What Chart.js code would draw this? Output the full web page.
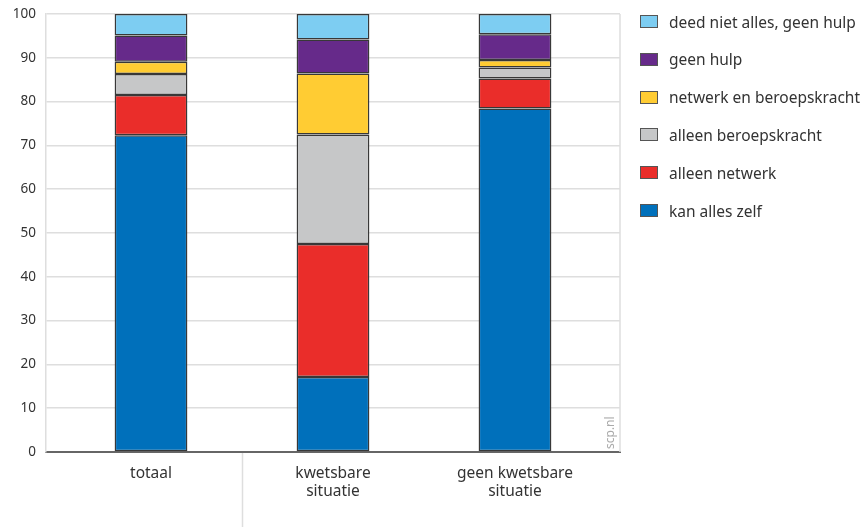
<!DOCTYPE html>
<html><head><meta charset="utf-8">
<script src="https://cdn.jsdelivr.net/npm/chart.js@4.4.1/dist/chart.umd.min.js"></script>
<style>
html,body{margin:0;padding:0;background:#fff;}
#wrap{position:relative;width:862px;height:527px;overflow:hidden;}
#legend{position:absolute;left:640px;top:0;font-family:"Noto Sans";font-size:15.5px;color:#333;}
.item{position:absolute;left:0;white-space:nowrap;height:20px;line-height:20px;}
.box{position:absolute;left:0;top:3.5px;width:18px;height:13px;box-sizing:border-box;border:1.5px solid #555;}
.lbl{position:absolute;left:29px;top:0;}
</style></head>
<body><div id="wrap"><canvas id="c" width="862" height="527"></canvas><div id="legend"></div></div>
<script>
const categories = [["totaal"], ["kwetsbare", "situatie"], ["geen kwetsbare", "situatie"]];
const seriesNames = ["kan alles zelf", "alleen netwerk", "alleen beroepskracht", "netwerk en beroepskracht", "geen hulp", "deed niet alles, geen hulp"];
const kanAllesZelf = [72.3, 17.1, 78.4];
const alleenNetwerk = [9.2, 30.4, 6.9];
const alleenBeroepskracht = [4.8, 25.0, 2.5];
const netwerkEnBeroepskracht = [2.8, 13.9, 1.7];
const geenHulp = [6.0, 7.8, 5.9];
const deedNietAlles = [4.9, 5.8, 4.6];
const yTicks = [0, 10, 20, 30, 40, 50, 60, 70, 80, 90, 100];

const seriesValues = [kanAllesZelf, alleenNetwerk, alleenBeroepskracht, netwerkEnBeroepskracht, geenHulp, deedNietAlles];
const colors = ["#0070bb", "#ea2d2a", "#c6c7c8", "#ffcc33", "#662a8a", "#7dcdf2"];
const FONT = "Noto Sans";

const datasets = seriesNames.map((name, s) => ({
  label: name,
  data: categories.map((c, i) => ({x: i, y: seriesValues[s][i]})),
  backgroundColor: colors[s],
  borderColor: "#383838",
  borderWidth: 1.5,
  borderSkipped: false,
  barPercentage: 0.4,
  categoryPercentage: 1.0
}));

const extras = {
  id: "extras",
  beforeDatasetsDraw(chart) {
    const {ctx, chartArea} = chart;
    ctx.save();
    ctx.strokeStyle = "#dedede";
    ctx.lineWidth = 1.5;
    ctx.beginPath();
    ctx.moveTo(chartArea.right, chartArea.top);
    ctx.lineTo(chartArea.right, chartArea.bottom);
    ctx.stroke();
    ctx.restore();
  },
  afterDraw(chart) {
    const {ctx, chartArea} = chart;
    const xs = chart.scales.x;
    ctx.save();
    ctx.strokeStyle = "#dedede";
    ctx.lineWidth = 1.5;
    const sx = Math.round(xs.getPixelForValue(0.5)) + 0.5;
    ctx.beginPath();
    ctx.moveTo(sx, chartArea.bottom + 1);
    ctx.lineTo(sx, chart.height);
    ctx.stroke();
    ctx.translate(chartArea.right - 9, chartArea.bottom - 3);
    ctx.rotate(-Math.PI / 2);
    ctx.fillStyle = "#aaa";
    ctx.font = "12px '" + FONT + "'";
    ctx.textAlign = "left";
    ctx.textBaseline = "middle";
    ctx.fillText("scp.nl", 0, 0);
    ctx.restore();
  }
};

new Chart(document.getElementById("c"), {
  type: "bar",
  data: {datasets},
  options: {
    responsive: false,
    animation: false,
    devicePixelRatio: 1,
    layout: {padding: {top: 14, right: 242, left: 0, bottom: 0}},
    plugins: {legend: {display: false}, tooltip: {enabled: false}},
    scales: {
      x: {
        type: "linear", min: -0.577, max: 2.577, stacked: true, offset: false,
        grid: {display: false, drawTicks: false},
        border: {display: true, color: "#666", width: 2},
        ticks: {
          stepSize: 1, includeBounds: false, autoSkip: false, maxRotation: 0, padding: 12,
          font: {family: FONT, size: 15.5, lineHeight: 1.2}, color: "#333",
          callback: (v) => Number.isInteger(v) && categories[v] ? categories[v] : ""
        },
        afterFit: (s) => { s.height = 75; s.paddingLeft = 0; s.paddingRight = 0; }
      },
      y: {
        stacked: true, min: 0, max: 100,
        afterBuildTicks: (s) => { s.ticks = yTicks.map(v => ({value: v})); },
        ticks: {padding: 10, font: {family: FONT, size: 13.5}, color: "#333"},
        grid: {
          color: (c) => (c.tick && c.tick.value === 0) ? "rgba(0,0,0,0)" : "#dedede",
          lineWidth: 1.5, drawTicks: false
        },
        border: {display: true, color: "#dedede", width: 1.5},
        afterFit: (s) => { s.width = 46; s.paddingTop = 0; s.paddingBottom = 0; }
      }
    }
  },
  plugins: [extras]
});

const legend = document.getElementById("legend");
for (let k = seriesNames.length - 1, r = 0; k >= 0; k--, r++) {
  const it = document.createElement("div");
  it.className = "item";
  it.style.top = (11.5 + r * 37.8) + "px";
  const b = document.createElement("div");
  b.className = "box";
  b.style.background = colors[k];
  const t = document.createElement("div");
  t.className = "lbl";
  t.textContent = seriesNames[k];
  it.appendChild(b); it.appendChild(t);
  legend.appendChild(it);
}
</script>
</body></html>
